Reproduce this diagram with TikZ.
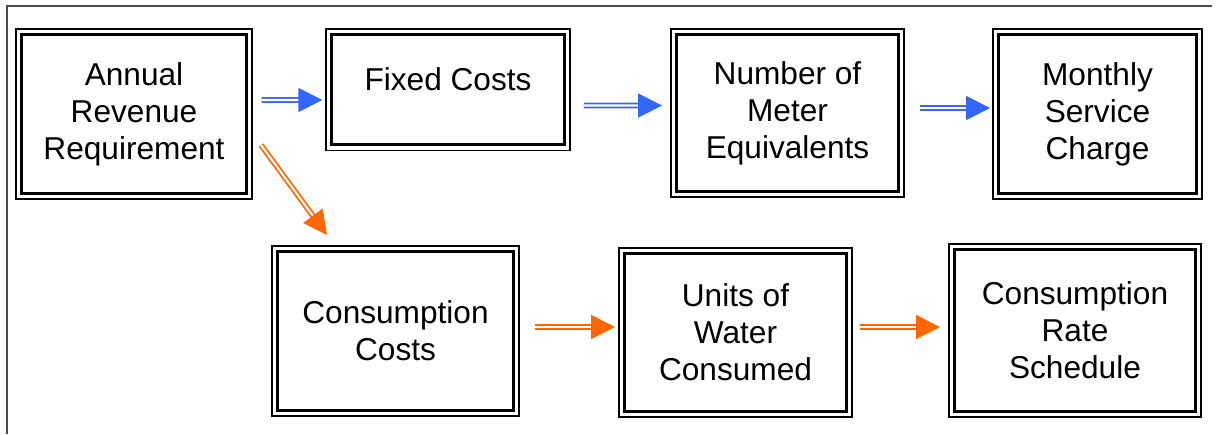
\documentclass[tikz,border=0pt]{standalone}
\usepackage{fontspec}
\setmainfont{Liberation Sans}
\usetikzlibrary{arrows.meta}
\definecolor{flowblue}{HTML}{3366FF}
\definecolor{floworange}{HTML}{FF6600}

\begin{document}
\begin{tikzpicture}[
        x=0.02cm, y=-0.02cm,
        every node/.append style={black},
        stage/.style={draw, line width=1.7pt, align=center, inner sep=0pt,
            outer sep=0pt, font=\fontsize{18}{21}\selectfont},
        rim/.style={line width=0.85pt},
        feed/.style={line width=1pt, double=white, double distance=1.2pt,
            -{Triangle[length=13.6pt,width=13.6pt]}},
        fixedline/.style={feed, draw=flowblue},
        varline/.style={feed, draw=floworange}
    ]
    \useasboundingbox (0,0) rectangle (1217,434);
    \draw[black!70, line width=0.6pt] (7,434) -- (7,6) -- (1212,6);

    % fixed side
    \node[stage, minimum width=4.51cm, minimum height=3.19cm] (revenue) at (134,114)
        {Annual\\Revenue\\Requirement};
    \node[stage, minimum width=4.67cm, minimum height=2.21cm, text depth=0.4cm] (fixed) at (448,89.5)
        {Fixed Costs};
    \node[stage, minimum width=4.45cm, minimum height=3.15cm] (meters) at (787.5,113)
        {Number of\\Meter\\Equivalents};
    \node[stage, minimum width=3.97cm, minimum height=3.19cm] (service) at (1097.5,114)
        {Monthly\\Service\\Charge};

    % variable side
    \node[stage, minimum width=4.73cm, minimum height=3.19cm] (conscost) at (395.5,331)
        {Consumption\\Costs};
    \node[stage, minimum width=4.45cm, minimum height=3.17cm] (units) at (735.5,332.5)
        {Units of\\Water\\Consumed};
    \node[stage, minimum width=4.83cm, minimum height=3.25cm] (rate) at (1075,330.5)
        {Consumption\\Rate\\Schedule};

    \foreach \n in {revenue,fixed,meters,service,conscost,units,rate}
        \draw[rim] ([shift={(-5.5,-5.5)}]\n.north west) rectangle ([shift={(5.5,5.5)}]\n.south east);

    \draw[fixedline] ([shift={(15,-14)}]revenue.east) -- ([shift={(-9,10.5)}]fixed.west);
    \draw[fixedline] ([shift={(19.25,16)}]fixed.east) -- ([shift={(-14.25,-7.5)}]meters.west);
    \draw[fixedline] ([shift={(21.25,-5)}]meters.east) -- ([shift={(-8.25,-6)}]service.west);

    \draw[varline] ([shift={(14.25,31)}]revenue.east) -- ([shift={(49.75,-16.25)}]conscost.north west);
    \draw[varline] ([shift={(21.25,-4)}]conscost.east) -- ([shift={(-9.25,-5.5)}]units.west);
    \draw[varline] ([shift={(13.25,-5.5)}]units.east) -- ([shift={(-14.25,-3.5)}]rate.west);
\end{tikzpicture}
\end{document}
